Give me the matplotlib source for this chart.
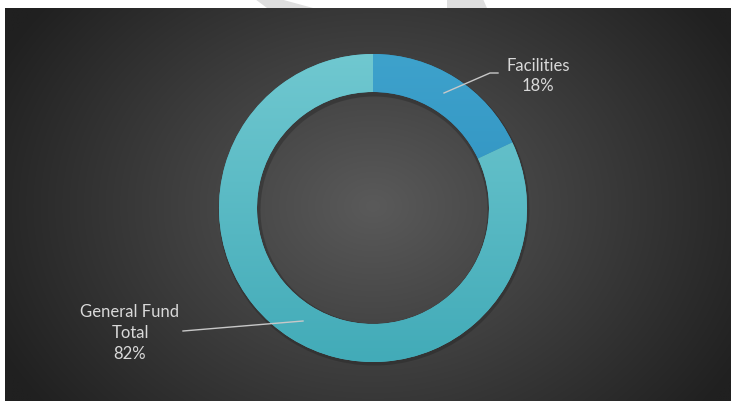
import numpy as np
import matplotlib
matplotlib.use("Agg")
import matplotlib.pyplot as plt
from matplotlib.patches import Polygon

# ---- data ----
categories = ["Facilities", "General Fund\nTotal"]
values = [18, 82]
pct_labels = ["18%", "82%"]

W, H = 731, 402
fig = plt.figure(figsize=(W / 100, H / 100), dpi=100)
fig.patch.set_facecolor("white")
ax = fig.add_axes([0, 0, 1, 1])
ax.set_xlim(0, W)
ax.set_ylim(0, H)
ax.set_aspect("equal")
ax.axis("off")

# watermark strips at top (white area)
ax.add_patch(Polygon([[255, H], [280, H], [313, H - 9], [267, H - 9]], closed=True,
                     facecolor="#dedede", edgecolor="none", zorder=0))
ax.add_patch(Polygon([[447, H], [483, H], [487, H - 9], [447, H - 9]], closed=True,
                     facecolor="#dedede", edgecolor="none", zorder=0))

# dark radial gradient background
x0, x1, y0, y1 = 5, W + 1, -1, H - 9
gx = np.linspace(x0, x1, 400)
gy = np.linspace(y0, y1, 250)
XX, YY = np.meshgrid(gx, gy)
cx, cy = 373, 195
d = np.sqrt(((XX - cx) / 420) ** 2 + ((YY - cy) / 330) ** 2)
d = np.clip(d, 0, 1)
c_in = np.array([0x5a, 0x5a, 0x5a]) / 255
c_out = np.array([0x20, 0x20, 0x20]) / 255
img = c_in[None, None, :] * (1 - d[..., None]) + c_out[None, None, :] * d[..., None]
ax.imshow(img, extent=[x0, x1, y0, y1], origin="lower", zorder=1, aspect="auto",
          interpolation="bilinear")

# donut
center = (373, H - 209)
R = 154
ring = 38
# subtle shadow
sh_w, _ = ax.pie(values, radius=R + 1.5, center=(center[0] + 1, center[1] - 2),
                 startangle=90, counterclock=False,
                 wedgeprops=dict(width=ring + 4, edgecolor="none"),
                 colors=["#1a1a1a", "#1a1a1a"], frame=True)
for w in sh_w:
    w.set_zorder(2)
    w.set_alpha(0.3)

wedges, _ = ax.pie(values, radius=R, center=center, startangle=90, counterclock=False,
                   wedgeprops=dict(width=ring, edgecolor="none"),
                   colors=["#2f93c2", "#52b7c5"], frame=True)
ax.set_xlim(0, W)
ax.set_ylim(0, H)
ax.axis("off")

grads = [
    (np.array([0x3e, 0xa2, 0xcc]), np.array([0x25, 0x86, 0xb8])),
    (np.array([0x70, 0xc8, 0xd0]), np.array([0x42, 0xab, 0xb8])),
]
for w, (top, bot) in zip(wedges, grads):
    w.set_zorder(3)
    t = np.linspace(0, 1, 200)[:, None]
    col = (bot[None, :] * (1 - t) + top[None, :] * t) / 255
    gimg = np.repeat(col[:, None, :], 2, axis=1)
    im = ax.imshow(gimg, extent=[center[0] - R, center[0] + R, center[1] - R, center[1] + R],
                   origin="lower", aspect="auto", zorder=4, interpolation="bilinear")
    im.set_clip_path(w)

txt_color = "#d9d9d9"
# labels
ax.text(538, H - 76, categories[0] + "\n" + pct_labels[0], ha="center", va="center",
        fontsize=12, color=txt_color, family="Lato", linespacing=1.35, zorder=6)
ax.plot([444, 490, 498], [H - 94, H - 74, H - 74], color="#c8c8c8", lw=1, zorder=6)

ax.text(130, H - 333, categories[1] + "\n" + pct_labels[1], ha="center", va="center",
        fontsize=12, color=txt_color, family="Lato", linespacing=1.35, zorder=6)
ax.plot([183, 303], [H - 332, H - 322], color="#c8c8c8", lw=1, zorder=6)

fig.savefig("out.png", dpi=100, facecolor=fig.get_facecolor())
